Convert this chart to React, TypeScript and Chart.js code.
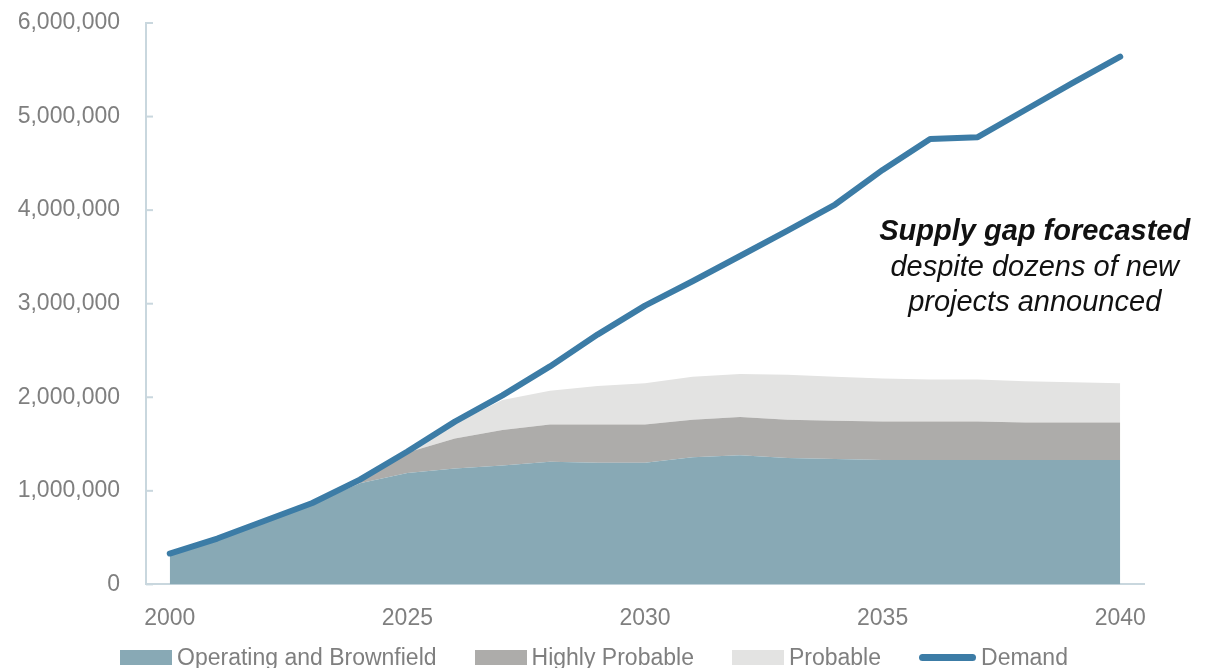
import { useEffect, useRef } from 'react'
import Chart from 'chart.js/auto'

const years = ['2020', '2021', '2022', '2023', '2024', '2025', '2026', '2027', '2028', '2029', '2030',
  '2031', '2032', '2033', '2034', '2035', '2036', '2037', '2038', '2039', '2040']
const xTickLabels = ['2000', '', '', '', '', '2025', '', '', '', '', '2030', '', '', '', '', '2035', '', '', '', '', '2040']

// tonnes
const operating = [330000, 490000, 680000, 860000, 1080000, 1190000, 1240000, 1270000, 1310000, 1300000, 1300000,
  1360000, 1380000, 1350000, 1340000, 1330000, 1330000, 1330000, 1330000, 1330000, 1330000]
const highlyProbable = [0, 0, 5000, 20000, 40000, 220000, 320000, 380000, 400000, 410000, 410000,
  400000, 410000, 410000, 410000, 410000, 410000, 410000, 400000, 400000, 400000]
const probable = [0, 0, 0, 0, 0, 20000, 160000, 320000, 360000, 410000, 440000,
  460000, 460000, 480000, 470000, 460000, 450000, 450000, 440000, 430000, 420000]
const demand = [330000, 490000, 680000, 870000, 1120000, 1420000, 1740000, 2020000, 2330000, 2670000, 2980000,
  3240000, 3510000, 3780000, 4060000, 4430000, 4760000, 4780000, 5070000, 5360000, 5640000]

const seriesNames = ['Operating and Brownfield', 'Highly Probable', 'Probable', 'Demand']
const seriesColors = ['#88a9b5', '#adacaa', '#e3e3e2', '#3c7ca6']

const annotation = [
  { text: 'Supply gap forecasted', bold: true, value: 3765000 },
  { text: 'despite dozens of new', bold: false, value: 3380000 },
  { text: 'projects announced', bold: false, value: 3010000 },
]

const AXIS = '#c9d7de'
const TEXT = '#7f7f7f'
const FONT = "'Liberation Sans Narrow', 'Arial Narrow', 'Liberation Sans', Arial, sans-serif"

const extras = {
  id: 'extras',
  afterDraw(chart: any) {
    const { ctx, scales } = chart
    const y = scales.y
    const x = scales.x
    ctx.save()
    // small inward tick marks on the y axis
    ctx.strokeStyle = AXIS
    ctx.lineWidth = 2
    y.ticks.forEach((t: any) => {
      const py = y.getPixelForValue(t.value)
      ctx.beginPath()
      ctx.moveTo(x.left, py)
      ctx.lineTo(x.left + 7, py)
      ctx.stroke()
    })
    // annotation text
    ctx.fillStyle = '#111'
    ctx.textAlign = 'center'
    ctx.textBaseline = 'middle'
    const cx = x.getPixelForValue(18.2)
    annotation.forEach(a => {
      ctx.font = (a.bold ? 'italic bold ' : 'italic ') + "29px 'Liberation Sans', Arial, sans-serif"
      ctx.fillText(a.text, cx, y.getPixelForValue(a.value))
    })
    ctx.restore()
  }
}

function Legend() {
  return (
    <div style={{ position: 'absolute', left: 120, top: 643, display: 'flex', alignItems: 'center', gap: 38, fontFamily: FONT, fontSize: 23, color: TEXT, lineHeight: '28px', whiteSpace: 'nowrap' }}>
      {seriesNames.map((name, i) => {
        const isLine = i === 3
        return (
          <div key={name} style={{ display: 'flex', alignItems: 'center' }}>
            <span style={{
              display: 'inline-block', width: isLine ? 57 : 52, height: isLine ? 7 : 15,
              borderRadius: isLine ? 4 : 0, background: seriesColors[i], marginRight: 5
            }} />
            <span>{name}</span>
          </div>
        )
      })}
    </div>
  )
}

export default function App() {
  const canvasRef = useRef<HTMLCanvasElement | null>(null)
  const chartRef = useRef<any>(null)

  useEffect(() => {
    const ctx = canvasRef.current?.getContext('2d')
    if (!ctx) return
    if (chartRef.current) chartRef.current.destroy()

    const area = { borderWidth: 0, pointRadius: 0, order: 1, stack: 'supply' }

    chartRef.current = new Chart(ctx, {
      type: 'line',
      data: {
        labels: years,
        datasets: [
          { ...area, label: seriesNames[0], data: operating, fill: 'origin', backgroundColor: seriesColors[0] },
          { ...area, label: seriesNames[1], data: highlyProbable, fill: '-1', backgroundColor: seriesColors[1] },
          { ...area, label: seriesNames[2], data: probable, fill: '-1', backgroundColor: seriesColors[2] },
          { label: seriesNames[3], data: demand, stack: 'demand', order: 0, fill: false, borderColor: seriesColors[3], backgroundColor: seriesColors[3], borderWidth: 6, borderCapStyle: 'round', borderJoinStyle: 'round', pointRadius: 0 },
        ]
      },
      options: {
        responsive: true,
        maintainAspectRatio: false,
        animation: false,
        layout: { padding: { left: 16, right: 74, top: 23, bottom: 16 } },
        plugins: {
          tooltip: { enabled: false },
          legend: { display: false }
        },
        scales: {
          x: {
            offset: true,
            grid: { display: false, drawTicks: false },
            border: { display: true, color: AXIS, width: 2 },
            ticks: {
              autoSkip: false,
              maxRotation: 0,
              padding: 20,
              color: TEXT,
              font: { family: FONT, size: 23 },
              callback: (_v: any, i: number) => xTickLabels[i]
            }
          },
          y: {
            stacked: true,
            min: 0,
            max: 6000000,
            grid: { display: false, drawTicks: false },
            border: { display: true, color: AXIS, width: 2 },
            afterFit: (s: any) => { s.width = 130; s.paddingTop = 0; s.paddingBottom = 0 },
            ticks: {
              stepSize: 1000000,
              padding: 26,
              color: TEXT,
              font: { family: FONT, size: 23 },
              callback: (v: any) => Number(v).toLocaleString('en-US')
            }
          }
        }
      },
      plugins: [extras]
    })

    return () => chartRef.current?.destroy()
  }, [])

  return (
    <div style={{ position: 'fixed', left: 0, top: 0, width: 1218, height: 668, background: '#fff' }}>
      <canvas ref={canvasRef} />
      <Legend />
    </div>
  )
}
